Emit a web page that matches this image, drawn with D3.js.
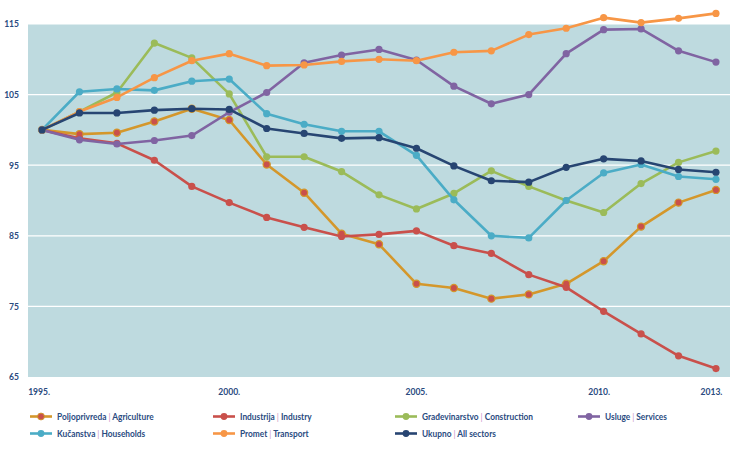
<!DOCTYPE html>
<html>
<head>
<meta charset="utf-8">
<script src="https://cdn.jsdelivr.net/npm/d3@7"></script>
<style>
  html, body { margin: 0; padding: 0; background: #ffffff; }
  svg { display: block; }
  text { font-family: Lato, "Open Sans", sans-serif; }
</style>
</head>
<body>
<svg id="chart" width="744" height="451"></svg>
<script>
const years = [1995,1996,1997,1998,1999,2000,2001,2002,2003,2004,2005,2006,2007,2008,2009,2010,2011,2012,2013];
const xTickYears = [1995, 2000, 2005, 2010, 2013];
const yTicks = [65, 75, 85, 95, 105, 115];

const agriculture  = [100, 99.4, 99.6, 101.2, 103.0, 101.4, 95.1, 91.1, 85.3, 83.8, 78.2, 77.6, 76.1, 76.7, 78.2, 81.4, 86.3, 89.7, 91.5];
const industry     = [100, 98.8, 98.1, 95.7, 92.0, 89.7, 87.6, 86.2, 84.9, 85.2, 85.7, 83.6, 82.5, 79.5, 77.7, 74.3, 71.1, 68.0, 66.2];
const construction = [100, 102.6, 105.3, 112.3, 110.2, 105.1, 96.2, 96.2, 94.1, 90.8, 88.8, 91.0, 94.2, 92.0, 90.0, 88.3, 92.4, 95.4, 97.0];
const services     = [100, 98.6, 98.0, 98.5, 99.2, 102.5, 105.3, 109.5, 110.6, 111.4, 109.9, 106.2, 103.7, 105.0, 110.8, 114.2, 114.3, 111.2, 109.6];
const households   = [100, 105.4, 105.8, 105.6, 106.9, 107.2, 102.3, 100.8, 99.8, 99.8, 96.4, 90.1, 85.0, 84.7, 90.0, 93.9, 95.1, 93.4, 93.0];
const transport    = [100, 102.6, 104.6, 107.4, 109.8, 110.8, 109.1, 109.2, 109.7, 110.0, 109.8, 111.0, 111.2, 113.5, 114.4, 115.9, 115.2, 115.8, 116.5];
const allSectors   = [100, 102.4, 102.4, 102.8, 103.0, 102.9, 100.2, 99.5, 98.8, 98.9, 97.4, 94.9, 92.8, 92.6, 94.7, 95.9, 95.6, 94.4, 94.0];

const seriesNames = [
  ["Poljoprivreda", "Agriculture"],
  ["Industrija", "Industry"],
  ["Građevinarstvo", "Construction"],
  ["Usluge", "Services"],
  ["Kučanstva", "Households"],
  ["Promet", "Transport"],
  ["Ukupno", "All sectors"]
];
const seriesValues = [agriculture, industry, construction, services, households, transport, allSectors];
const lineColors = ["#d4972b", "#c9504b", "#9bbb59", "#8064a2", "#4bacc6", "#f79646", "#274572"];
const dotColors  = ["#c9504b", "#c9504b", "#9bbb59", "#8064a2", "#4bacc6", "#f79646", "#274572"];

const svg = d3.select("#chart");
const textColor = "#2a4b7f";
const sepColor = "#c88fc4";

const x = d3.scaleLinear().domain([1994.625, 2013.375]).range([28, 730]);
const y = d3.scaleLinear().domain([65, 115]).range([377, 24]);

// plot background
svg.append("rect")
  .attr("x", x.range()[0]).attr("y", y(115))
  .attr("width", x.range()[1] - x.range()[0])
  .attr("height", y(65) - y(115))
  .attr("fill", "#bedadf");

// gridlines
svg.append("g").selectAll("line")
  .data(yTicks.filter(d => d > 65))
  .join("line")
  .attr("x1", x.range()[0]).attr("x2", x.range()[1])
  .attr("y1", d => y(d)).attr("y2", d => y(d))
  .attr("stroke", "#ffffff").attr("stroke-width", 1.2);

// y labels
svg.append("g").selectAll("text")
  .data(yTicks)
  .join("text")
  .attr("transform", d => `translate(19,${y(d)}) scale(0.9,1)`)
  .attr("dy", "0.35em")
  .attr("text-anchor", "end")
  .attr("font-size", 9.5).attr("font-weight", 700)
  .attr("fill", textColor)
  .text(d => d);

// x labels
svg.append("g").selectAll("text")
  .data(xTickYears)
  .join("text")
  .attr("transform", d => `translate(${x(d) - (d === 1995 ? 3 : d >= 2010 ? 4.5 : 0)},392) scale(0.9,1)`)
  .attr("dy", "0.35em")
  .attr("text-anchor", "middle")
  .attr("font-size", 9.5).attr("font-weight", 700)
  .attr("fill", textColor)
  .text(d => d + ".");

// series
const line = d3.line().x((d, i) => x(years[i])).y(d => y(d));
seriesValues.forEach((vals, s) => {
  const g = svg.append("g");
  g.append("path")
    .datum(vals)
    .attr("d", line)
    .attr("fill", "none")
    .attr("stroke", lineColors[s])
    .attr("stroke-width", 2.6)
    .attr("stroke-linejoin", "round");
  g.selectAll("circle")
    .data(vals)
    .join("circle")
    .attr("cx", (d, i) => x(years[i]))
    .attr("cy", d => y(d))
    .attr("r", 3.6)
    .attr("fill", dotColors[s])
    .attr("stroke", lineColors[s])
    .attr("stroke-width", s === 0 ? 1.2 : 0);
});

// legend
const legendCols = [30, 213, 395, 578];
const legendRows = [416.5, 433.5];
seriesNames.forEach((nm, i) => {
  const col = i % 4, row = Math.floor(i / 4);
  const lx = legendCols[col], ly = legendRows[row];
  const g = svg.append("g");
  g.append("line")
    .attr("x1", lx).attr("x2", lx + 22)
    .attr("y1", ly).attr("y2", ly)
    .attr("stroke", lineColors[i]).attr("stroke-width", 2.6);
  g.append("circle")
    .attr("cx", lx + 11).attr("cy", ly).attr("r", 3.4)
    .attr("fill", dotColors[i])
    .attr("stroke", lineColors[i]).attr("stroke-width", i === 0 ? 1 : 0);
  const t = g.append("text")
    .attr("transform", `translate(${lx + 27},${ly}) scale(0.85,1)`)
    .attr("dy", "0.35em")
    .attr("font-size", 9.8).attr("font-weight", 700)
    .attr("fill", textColor);
  t.append("tspan").text(nm[0] + " ");
  t.append("tspan").attr("fill", sepColor).attr("font-weight", 400).text("|");
  t.append("tspan").text(" " + nm[1]);
});
</script>
</body>
</html>
